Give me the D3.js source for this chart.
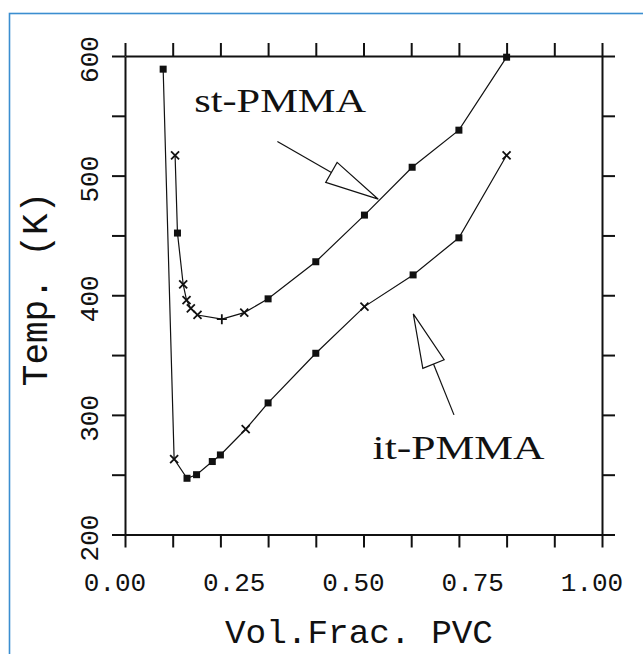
<!DOCTYPE html>
<html>
<head>
<meta charset="utf-8">
<script src="https://cdn.jsdelivr.net/npm/d3@7"></script>
<style>
    html, body { margin: 0; padding: 0; background: #fff; }
    svg { display: block; }
</style>
</head>
<body>
<svg id="chart" width="643" height="654"></svg>
<script>
// axis ticks and labels
const xTickValues = [0, 0.1, 0.2, 0.3, 0.4, 0.5, 0.6, 0.7, 0.8, 0.9, 1.0];
const xLabelValues = [0, 0.25, 0.5, 0.75, 1.0];
const yTickValues = [200, 250, 300, 350, 400, 450, 500, 550, 600];
const yLabelValues = [200, 300, 400, 500, 600];

// it-PMMA (outer curve)
const itFrac = [0.08, 0.103, 0.13, 0.15, 0.183, 0.20, 0.253, 0.30, 0.40, 0.502, 0.604, 0.70, 0.80];
const itTemp = [589, 263, 247, 250, 261, 266.5, 288, 310, 351.5, 390.5, 417, 448, 517];
const itMarker = ["s", "x", "s", "s", "s", "s", "x", "s", "s", "x", "s", "s", "x"];

// st-PMMA (inner curve)
const stFrac = [0.105, 0.11, 0.122, 0.129, 0.138, 0.152, 0.203, 0.25, 0.30, 0.40, 0.502, 0.602, 0.70, 0.80];
const stTemp = [517, 452, 409, 396, 389, 383.5, 380, 385.5, 397, 428, 467, 507, 538, 599];
const stMarker = ["x", "s", "x", "x", "x", "x", "+", "x", "s", "s", "s", "s", "s", "s"];

const seriesNames = ["it-PMMA", "st-PMMA"];

// annotation anchors, in data units
const labelPos = [[0.519, 263.5], [0.145, 553.3]];
const arrowTail = [[0.6897, 300], [0.3195, 528.5]];
const arrowTip = [[0.6044, 384.4], [0.531, 480.3]];

const plot = { left: 125, right: 602, top: 56, bottom: 534.5 };
const tickLen = 13;
const ink = "#111";
const monoFont = "'Liberation Mono', 'DejaVu Sans Mono', monospace";
const serifFont = "'Liberation Serif', 'DejaVu Serif', serif";

const svg = d3.select("#chart");

// outer frame of the picture
svg.append("rect")
    .attr("x", 9.5)
    .attr("y", 13.5)
    .attr("width", 700)
    .attr("height", 700)
    .attr("fill", "none")
    .attr("stroke", "#3b8ed0")
    .attr("stroke-width", 1.6);

const x = d3.scaleLinear().domain([0, 1]).range([plot.left, plot.right]);
const y = d3.scaleLinear().domain([200, 600]).range([plot.bottom, plot.top]);

function styleAxis(g) {
    g.selectAll("path.domain").attr("stroke", ink).attr("stroke-width", 2);
    g.selectAll(".tick line").attr("stroke", ink).attr("stroke-width", 2);
    g.selectAll(".tick text").remove();
}

// frame axes, ticks pointing outward on all sides
svg.append("g")
    .attr("transform", `translate(0, ${plot.bottom})`)
    .call(d3.axisBottom(x).tickValues(xTickValues).tickSize(tickLen).tickSizeOuter(0))
    .call(styleAxis);
svg.append("g")
    .attr("transform", `translate(0, ${plot.top})`)
    .call(d3.axisTop(x).tickValues(xTickValues).tickSize(tickLen).tickSizeOuter(0))
    .call(styleAxis);
svg.append("g")
    .attr("transform", `translate(${plot.left}, 0)`)
    .call(d3.axisLeft(y).tickValues(yTickValues).tickSize(tickLen).tickSizeOuter(0))
    .call(styleAxis);
svg.append("g")
    .attr("transform", `translate(${plot.right}, 0)`)
    .call(d3.axisRight(y).tickValues(yTickValues).tickSize(tickLen).tickSizeOuter(0))
    .call(styleAxis);

// tick labels (the original labels sit a little left of their values)
const xLabels = svg.append("g")
    .attr("transform", `translate(0, ${plot.bottom})`)
    .call(d3.axisBottom(x).tickValues(xLabelValues).tickSize(0).tickFormat(d3.format(".2f")));
xLabels.select("path.domain").remove();
xLabels.selectAll(".tick text")
    .attr("x", -10.5)
    .attr("y", 56)
    .attr("dy", 0)
    .attr("fill", ink)
    .style("font-family", monoFont)
    .style("font-size", "26px");

const yLabels = svg.append("g")
    .attr("transform", `translate(${plot.left}, 0)`)
    .call(d3.axisLeft(y).tickValues(yLabelValues).tickSize(0));
yLabels.select("path.domain").remove();
yLabels.selectAll(".tick text")
    .attr("x", 0)
    .attr("y", 0)
    .attr("dy", 0)
    .attr("text-anchor", "middle")
    .attr("transform", "translate(-27, 3) rotate(-90)")
    .attr("fill", ink)
    .style("font-family", monoFont)
    .style("font-size", "26px");

// axis titles
svg.append("text")
    .attr("x", 359)
    .attr("y", 643)
    .attr("text-anchor", "middle")
    .attr("fill", ink)
    .attr("textLength", 268)
    .attr("lengthAdjust", "spacingAndGlyphs")
    .style("font-family", monoFont)
    .style("font-size", "33px")
    .text("Vol.Frac. PVC");

svg.append("text")
    .attr("transform", "translate(47, 289) rotate(-90)")
    .attr("text-anchor", "middle")
    .attr("fill", ink)
    .style("font-family", monoFont)
    .style("font-size", "36px")
    .text("Temp. (K)");

// curves
const curves = [
    itFrac.map((f, i) => ({ f: f, t: itTemp[i], m: itMarker[i] })),
    stFrac.map((f, i) => ({ f: f, t: stTemp[i], m: stMarker[i] }))
];

const line = d3.line()
    .x(d => x(d.f))
    .y(d => y(d.t));

curves.forEach((pts, k) => {
    const g = svg.append("g").attr("class", seriesNames[k]);

    g.append("path")
        .datum(pts)
        .attr("d", line)
        .attr("fill", "none")
        .attr("stroke", ink)
        .attr("stroke-width", 1.2);

    g.selectAll("rect")
        .data(pts.filter(d => d.m === "s"))
        .enter()
        .append("rect")
        .attr("x", d => x(d.f) - 3.5)
        .attr("y", d => y(d.t) - 3.5)
        .attr("width", 7)
        .attr("height", 7)
        .attr("fill", ink);

    g.selectAll("path.mark")
        .data(pts.filter(d => d.m !== "s"))
        .enter()
        .append("path")
        .attr("class", "mark")
        .attr("d", d => {
            const cx = x(d.f), cy = y(d.t);
            if (d.m === "x") {
                return `M${cx - 4},${cy - 4}L${cx + 4},${cy + 4}M${cx - 4},${cy + 4}L${cx + 4},${cy - 4}`;
            }
            return `M${cx - 5},${cy}L${cx + 5},${cy}M${cx},${cy - 5}L${cx},${cy + 5}`;
        })
        .attr("fill", "none")
        .attr("stroke", ink)
        .attr("stroke-width", 1.8);
});

// series labels
seriesNames.forEach((name, k) => {
    svg.append("text")
        .attr("x", x(labelPos[k][0]))
        .attr("y", y(labelPos[k][1]))
        .attr("fill", ink)
        .attr("textLength", 172)
        .attr("lengthAdjust", "spacingAndGlyphs")
        .style("font-family", serifFont)
        .style("font-size", "34px")
        .text(name);
});

// open-headed arrows pointing at the curves
arrowTip.forEach((tip, k) => {
    const tx = x(tip[0]), ty = y(tip[1]);
    const sx = x(arrowTail[k][0]), sy = y(arrowTail[k][1]);
    const len = Math.hypot(tx - sx, ty - sy);
    const ux = (tx - sx) / len, uy = (ty - sy) / len;
    const headLen = 54, halfW = 11.5;
    const bx = tx - ux * headLen, by = ty - uy * headLen;

    svg.append("line")
        .attr("x1", sx).attr("y1", sy)
        .attr("x2", bx).attr("y2", by)
        .attr("stroke", ink)
        .attr("stroke-width", 1.2);

    svg.append("path")
        .attr("d", `M${tx},${ty}L${bx - uy * halfW},${by + ux * halfW}L${bx + uy * halfW},${by - ux * halfW}Z`)
        .attr("fill", "#fff")
        .attr("stroke", ink)
        .attr("stroke-width", 1.2);
});
</script>
</body>
</html>
